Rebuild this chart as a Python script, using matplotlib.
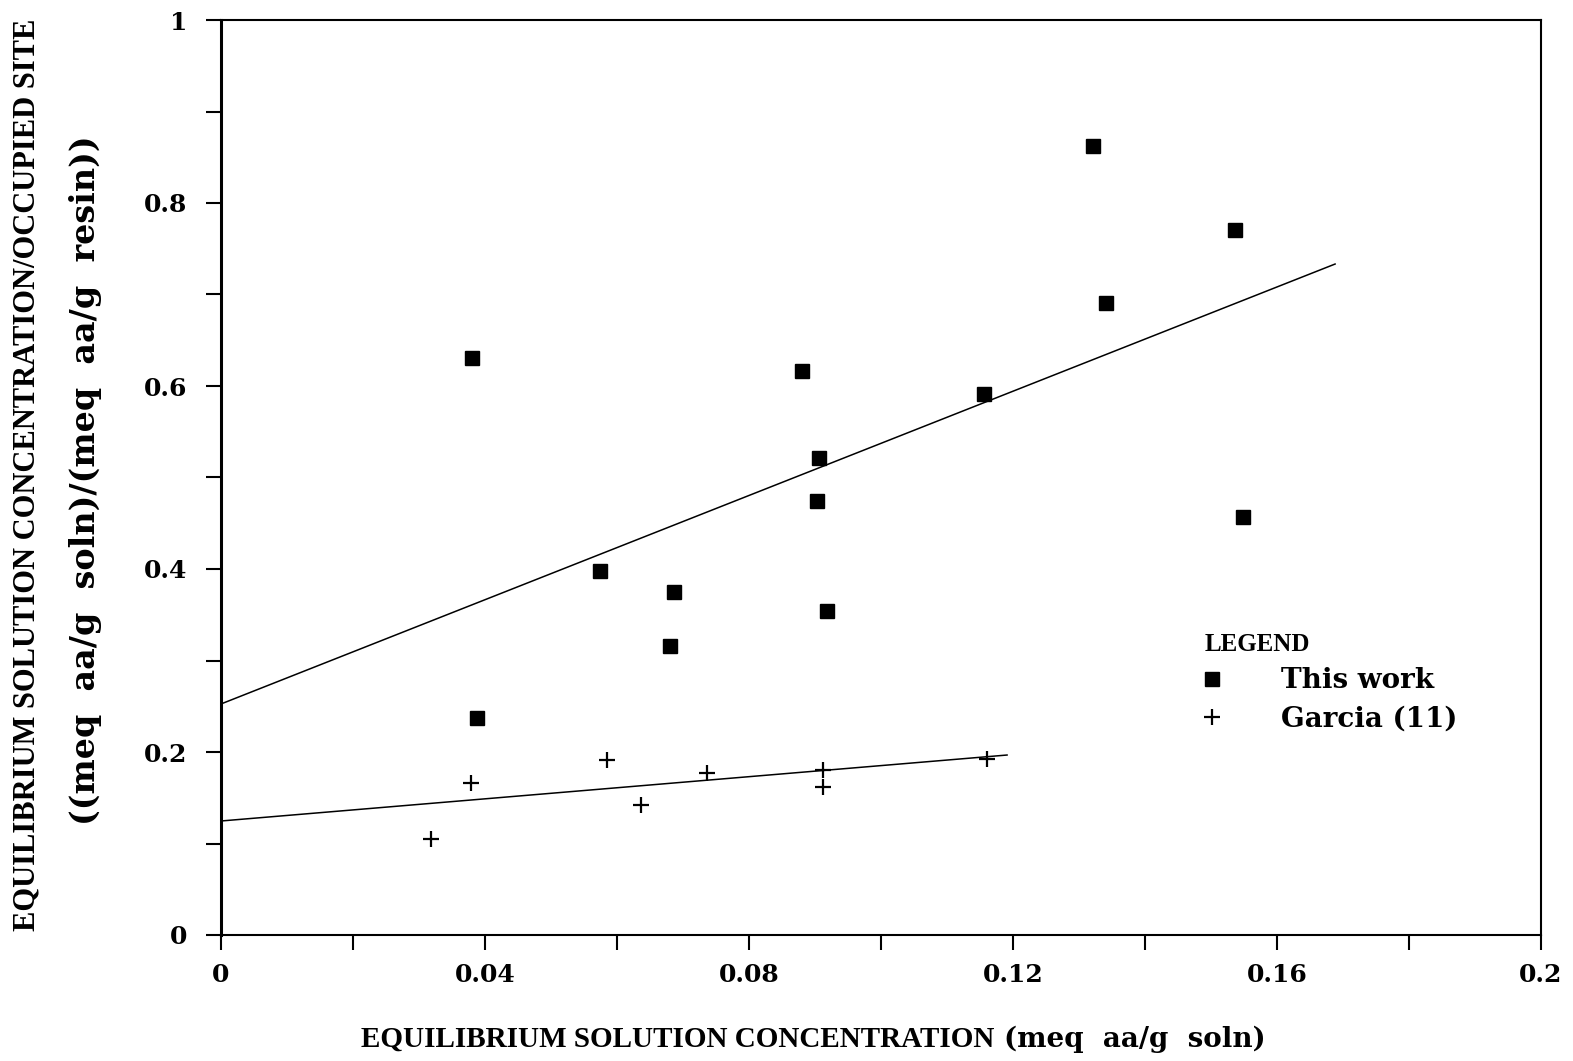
import matplotlib
matplotlib.use("Agg")
import matplotlib.pyplot as plt
from matplotlib.ticker import MultipleLocator, FixedFormatter, FixedLocator

# "This work" data
work_x = [0.0380, 0.0388, 0.0574, 0.0686, 0.0680, 0.0880, 0.0906, 0.0903,
          0.0918, 0.1156, 0.1321, 0.1341, 0.1536, 0.1548]
work_y = [0.6306, 0.2372, 0.3978, 0.3749, 0.3158, 0.6164, 0.5213, 0.4743,
          0.3541, 0.5913, 0.8623, 0.6907, 0.7705, 0.4568]

# Garcia (11) data
garcia_x = [0.0379, 0.0318, 0.0585, 0.0636, 0.0736, 0.0912, 0.0912, 0.1161]
garcia_y = [0.1664, 0.1049, 0.1913, 0.1421, 0.1767, 0.1803, 0.1617, 0.1923]

# fitted lines (end points)
work_fit_x = [0.0, 0.1688]
work_fit_y = [0.2525, 0.7333]
garcia_fit_x = [0.0, 0.1191]
garcia_fit_y = [0.1246, 0.1967]

x_ticks = [0, 0.04, 0.08, 0.12, 0.16, 0.2]
x_labels = ["0", "0.04", "0.08", "0.12", "0.16", "0.2"]
y_ticks = [0, 0.2, 0.4, 0.6, 0.8, 1]
y_labels = ["0", "0.2", "0.4", "0.6", "0.8", "1"]

wide_font = "DejaVu Serif"
narrow_font = "Liberation Serif"

W, H = 1573, 1061
fig = plt.figure(figsize=(W / 100, H / 100), dpi=100)
ax = fig.add_axes([221 / W, 1 - 935 / H, 1320 / W, 915 / H])

ax.plot(work_fit_x, work_fit_y, color="black", lw=1.1)
ax.plot(garcia_fit_x, garcia_fit_y, color="black", lw=1.1)
ax.plot(work_x, work_y, ls="none", marker="s", ms=10.5, color="black",
        label="This work")
ax.plot(garcia_x, garcia_y, ls="none", marker="+", ms=11, mew=1.6,
        color="black", label="Garcia (11)")

ax.set_xlim(0, 0.2)
ax.set_ylim(0, 1)

ax.xaxis.set_major_locator(FixedLocator(x_ticks))
ax.xaxis.set_major_formatter(FixedFormatter(x_labels))
ax.xaxis.set_minor_locator(MultipleLocator(0.02))
ax.yaxis.set_major_locator(FixedLocator(y_ticks))
ax.yaxis.set_major_formatter(FixedFormatter(y_labels))
ax.yaxis.set_minor_locator(MultipleLocator(0.1))

ax.tick_params(which="both", direction="out", length=11, width=1.5,
               top=False, right=False)
ax.tick_params(axis="x", which="major", pad=9)
ax.tick_params(axis="y", which="major", pad=13)
for lab in ax.get_xticklabels() + ax.get_yticklabels():
    lab.set_fontfamily(wide_font)
    lab.set_fontweight("bold")
    lab.set_fontsize(18)

for side in ["top", "right", "bottom"]:
    ax.spines[side].set_linewidth(1.5)
ax.spines["left"].set_linewidth(2.2)

# axis titles: condensed caps + wider lowercase, as in the original print
def px(x, y):
    return x / W, 1 - y / H

fig.text(*px(994, 1047), "EQUILIBRIUM SOLUTION CONCENTRATION",
         ha="right", va="baseline", fontfamily=narrow_font,
         fontweight="bold", fontsize=21)
fig.text(*px(1004, 1047), "(meq  aa/g  soln)",
         ha="left", va="baseline", fontfamily=wide_font,
         fontweight="bold", fontsize=20)
fig.text(*px(27, 475), "EQUILIBRIUM SOLUTION CONCENTRATION/OCCUPIED SITE",
         ha="center", va="center", rotation=90, fontfamily=narrow_font,
         fontweight="bold", fontsize=22)
fig.text(*px(86, 480), "((meq  aa/g  soln)/(meq  aa/g  resin))",
         ha="center", va="center", rotation=90, fontfamily=wide_font,
         fontweight="bold", fontsize=24)

leg = ax.legend(loc="upper left", bbox_to_anchor=(0.735, 0.345),
                frameon=False, title="LEGEND", alignment="left",
                handletextpad=2.25, labelspacing=0.4, handlelength=0.5,
                borderpad=0, prop={"family": wide_font, "weight": "bold",
                                   "size": 20})
leg.get_title().set_fontfamily(narrow_font)
leg.get_title().set_fontweight("bold")
leg.get_title().set_fontsize(18)

fig.savefig("out.png", dpi=100)
